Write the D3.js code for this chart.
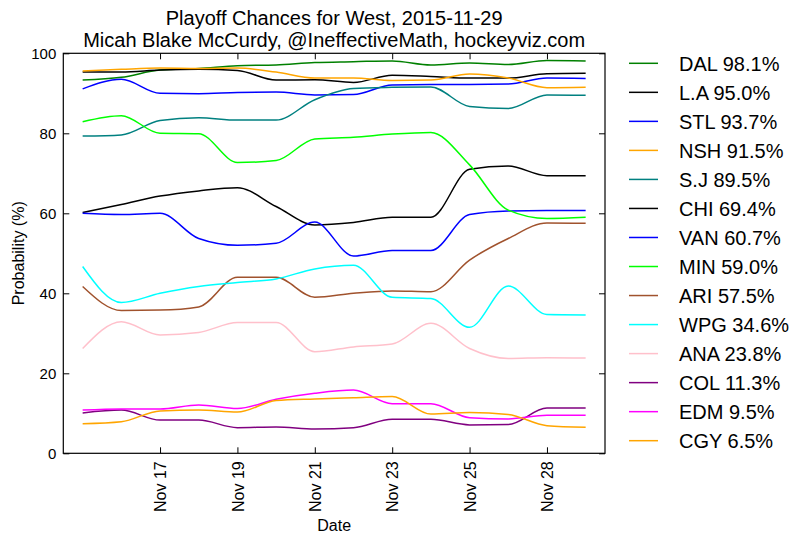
<!DOCTYPE html>
<html>
<head>
<meta charset="utf-8">
<script src="https://cdn.jsdelivr.net/npm/d3@7"></script>
<style>
  html, body { margin: 0; padding: 0; background: #fff; }
  svg { display: block; font-family: "Liberation Sans", Arial, sans-serif; }
</style>
</head>
<body>
<svg id="chart" width="806" height="543"></svg>
<script>
// ---- data ----
const dates = ["Nov 15","Nov 16","Nov 17","Nov 18","Nov 19","Nov 20","Nov 21","Nov 22","Nov 23","Nov 24","Nov 25","Nov 27","Nov 28","Nov 29"];
const tickIndex = [2, 4, 6, 8, 10, 12];
const yTicks = [0, 20, 40, 60, 80, 100];

const teams  = ["DAL","L.A","STL","NSH","S.J","CHI","VAN","MIN","ARI","WPG","ANA","COL","EDM","CGY"];
const colors = ["#008000","#000000","#0000ff","#ffa500","#008080","#000000","#0000ff","#00ff00","#a0522d","#00ffff","#ffc0cb","#800080","#ff00ff","#ffa500"];
const finals = ["98.1%","95.0%","93.7%","91.5%","89.5%","69.4%","60.7%","59.0%","57.5%","34.6%","23.8%","11.3%","9.5%","6.5%"];

const DAL = [93.3, 94.0, 95.8, 96.2, 96.9, 97.1, 97.7, 97.9, 98.1, 97.1, 97.6, 97.2, 98.2, 98.1];
const LA  = [95.3, 95.3, 95.8, 96.0, 95.7, 93.3, 93.4, 92.7, 94.5, 94.2, 93.8, 93.8, 94.9, 95.0];
const STL = [91.1, 93.5, 90.0, 89.9, 90.2, 90.3, 89.6, 89.7, 92.1, 92.2, 92.2, 92.3, 93.8, 93.7];
const NSH = [95.6, 96.0, 96.3, 96.2, 96.3, 95.3, 93.8, 93.8, 93.2, 93.3, 94.8, 93.8, 91.4, 91.5];
const SJ  = [79.3, 79.6, 83.2, 83.9, 83.3, 83.3, 88.4, 91.2, 91.5, 91.6, 86.7, 86.2, 89.6, 89.5];
const CHI = [60.2, 62.2, 64.3, 65.6, 66.4, 61.7, 57.1, 57.7, 59.0, 59.0, 71.0, 71.8, 69.4, 69.4];
const VAN = [60.0, 59.7, 60.0, 53.7, 52.0, 52.5, 57.8, 49.3, 50.7, 50.7, 59.7, 60.6, 60.7, 60.7];
const MIN = [82.9, 84.4, 80.0, 79.9, 72.7, 73.2, 78.6, 79.0, 79.8, 80.2, 72.1, 60.8, 58.7, 59.0];
const ARI = [41.7, 35.7, 35.8, 36.6, 44.0, 44.0, 39.0, 40.0, 40.6, 40.4, 48.3, 53.7, 57.6, 57.5];
const WPG = [46.7, 37.7, 40.0, 41.7, 42.7, 43.6, 46.1, 47.0, 39.0, 38.7, 31.5, 41.8, 34.7, 34.6];
const ANA = [26.2, 32.9, 29.6, 30.2, 32.7, 32.7, 25.4, 26.6, 27.3, 32.5, 26.2, 23.7, 23.9, 23.8];
const COL = [10.1, 10.8, 8.3, 8.3, 6.4, 6.6, 6.1, 6.4, 8.5, 8.5, 7.1, 7.2, 11.3, 11.3];
const EDM = [10.8, 11.1, 11.1, 12.1, 11.2, 13.5, 15.0, 15.8, 12.4, 12.4, 8.9, 8.6, 9.5, 9.5];
const CGY = [7.4, 7.9, 10.6, 10.8, 10.3, 13.2, 13.6, 13.9, 14.2, 9.8, 10.2, 9.7, 6.9, 6.5];

const seriesValues = [DAL, LA, STL, NSH, SJ, CHI, VAN, MIN, ARI, WPG, ANA, COL, EDM, CGY];

// ---- layout ----
const svg = d3.select("#chart");
const L = 63.3, R = 605, T = 53.3, B = 453.3;

const x = d3.scaleLinear().domain([-0.5, dates.length - 0.5]).range([L, R]);
const y = d3.scaleLinear().domain([0, 100]).range([B, T]);

// series lines
const line = d3.line()
  .x((d, i) => x(i))
  .y(d => y(d))
  .curve(d3.curveMonotoneX);

const g = svg.append("g");
seriesValues.forEach((vals, k) => {
  g.append("path")
    .attr("d", line(vals))
    .attr("fill", "none")
    .attr("stroke", colors[k])
    .attr("stroke-width", 1.5);
});

// axes (inward ticks, classic style)
const tickLen = 6;
const xAxisB = d3.axisBottom(x).tickValues(tickIndex).tickFormat(i => dates[i]).tickSizeInner(-tickLen).tickSizeOuter(0);
const xAxisT = d3.axisTop(x).tickValues(tickIndex).tickFormat("").tickSizeInner(-tickLen).tickSizeOuter(0);
const yAxisL = d3.axisLeft(y).tickValues(yTicks).tickFormat(d3.format("d")).tickSizeInner(-tickLen).tickSizeOuter(0).tickPadding(7);
const yAxisR = d3.axisRight(y).tickValues(yTicks).tickFormat("").tickSizeInner(-tickLen).tickSizeOuter(0);

const gxb = svg.append("g").attr("transform", `translate(0,${B})`).call(xAxisB);
const gxt = svg.append("g").attr("transform", `translate(0,${T})`).call(xAxisT);
const gyl = svg.append("g").attr("transform", `translate(${L},0)`).call(yAxisL);
const gyr = svg.append("g").attr("transform", `translate(${R},0)`).call(yAxisR);

[gxb, gxt, gyl, gyr].forEach(a => {
  a.select(".domain").remove();
  a.selectAll(".tick line").attr("stroke", "#000").attr("stroke-width", 1);
});

gyl.selectAll(".tick text")
  .attr("font-size", 15)
  .attr("font-family", "Liberation Sans, Arial, sans-serif")
  .attr("fill", "#000");

gxb.selectAll(".tick text")
  .attr("font-size", 16)
  .attr("font-family", "Liberation Sans, Arial, sans-serif")
  .attr("fill", "#000")
  .attr("text-anchor", "end")
  .attr("transform", "rotate(-90)")
  .attr("x", -8)
  .attr("y", 0)
  .attr("dy", "0.35em");

// frame
svg.append("rect")
  .attr("x", L).attr("y", T)
  .attr("width", R - L).attr("height", B - T)
  .attr("fill", "none").attr("stroke", "#000").attr("stroke-width", 1.2);

// titles
const cx = (L + R) / 2;
svg.append("text").attr("x", cx).attr("y", 25).attr("text-anchor", "middle")
  .attr("font-size", 20).text("Playoff Chances for West, 2015-11-29");
svg.append("text").attr("x", cx).attr("y", 47).attr("text-anchor", "middle")
  .attr("font-size", 20).text("Micah Blake McCurdy, @IneffectiveMath, hockeyviz.com");

svg.append("text").attr("x", cx).attr("y", 531).attr("text-anchor", "middle")
  .attr("font-size", 16).text("Date");
svg.append("text")
  .attr("transform", `translate(24,${(T + B) / 2}) rotate(-90)`)
  .attr("text-anchor", "middle")
  .attr("font-size", 16).text("Probability (%)");

// legend
const lg = svg.append("g");
teams.forEach((t, k) => {
  const ly = 63.3 + k * 29.03;
  lg.append("line").attr("x1", 629).attr("x2", 658).attr("y1", ly).attr("y2", ly)
    .attr("stroke", colors[k]).attr("stroke-width", 1.5);
  lg.append("text").attr("x", 679).attr("y", ly).attr("dy", "0.36em")
    .attr("font-size", 20).text(`${t} ${finals[k]}`);
});
</script>
</body>
</html>
